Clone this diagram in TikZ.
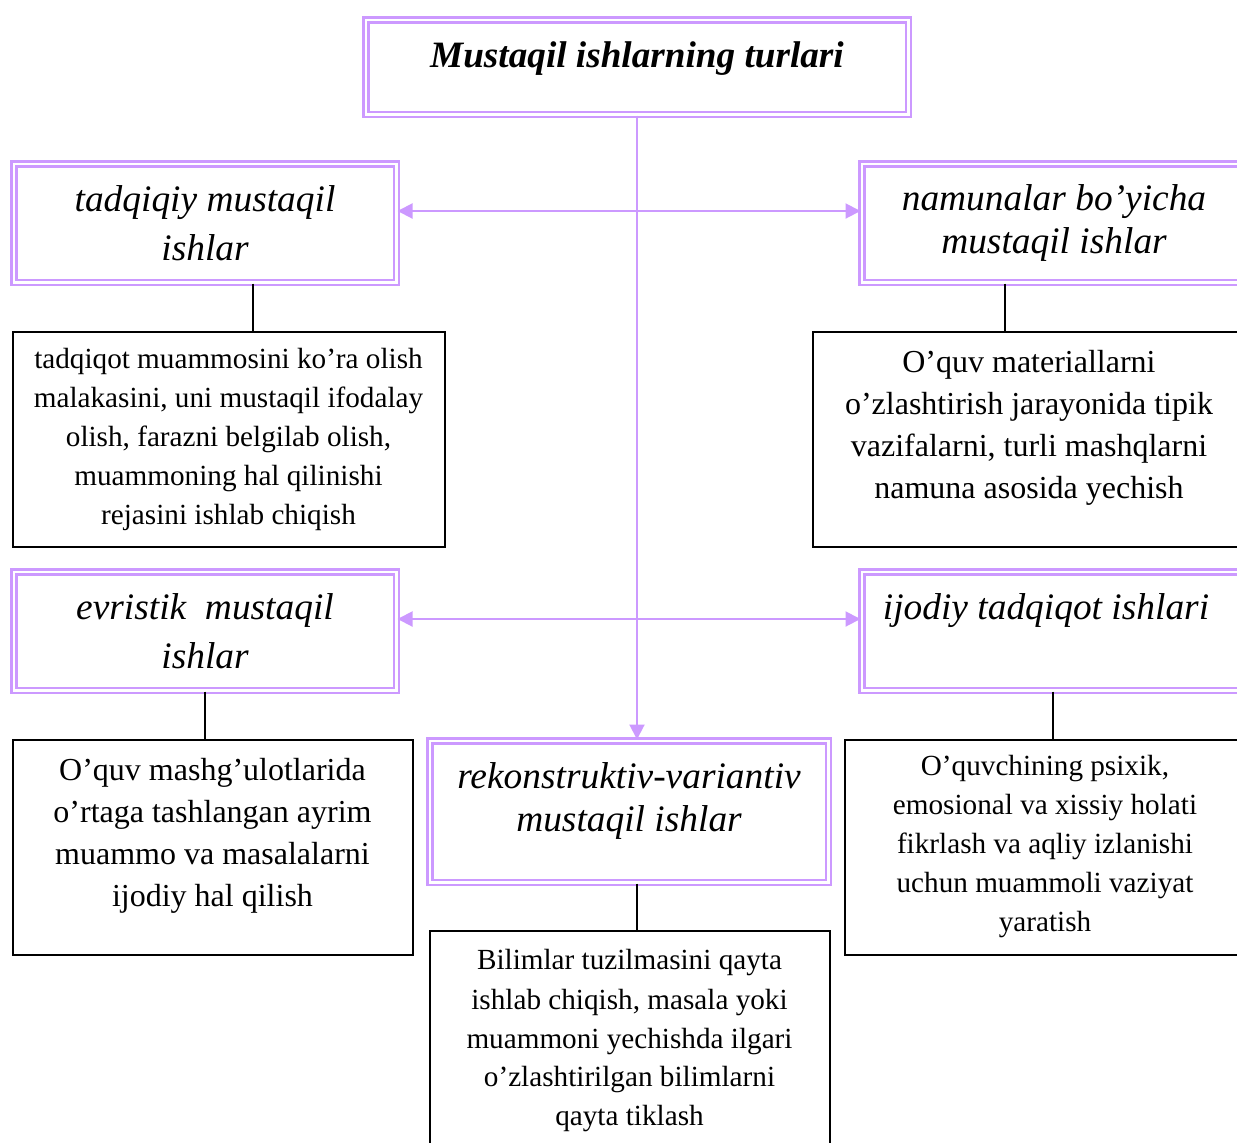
\documentclass[tikz,border=0pt]{standalone}
\usepackage{fontspec}
\setmainfont{Liberation Serif}
\usetikzlibrary{arrows.meta}
\definecolor{lilac}{RGB}{204,153,255}

\tikzset{
	kind/.style={draw=lilac, double=white, line width=1.25pt, double distance=1.25pt,
		align=center, inner sep=0pt, font=\itshape\fontsize{18.7}{24.5}\selectfont},
	note/.style={draw, line width=1pt, align=center, inner sep=0pt,
		font=\fontsize{14.6}{19.5}\selectfont},
	link/.style={lilac, line width=1pt, -{Triangle[length=7.5pt,width=7.5pt]}},
	stem/.style={black, line width=1pt}
}

\begin{document}
\begin{tikzpicture}[x=0.5pt, y=-0.5pt]

	\useasboundingbox (0,0) rectangle (1237,1142);
	\clip (0,0) rectangle (1237,1142);

	% boxes for the kinds
	\node[kind, font=\bfseries\itshape\fontsize{18.6}{22}\selectfont,
		minimum width=271.25pt, minimum height=47.25pt] (head) at (637,67)
		{Mustaqil ishlarning turlari\\[-10pt]\mbox{}};

	\node[kind, minimum width=191.25pt, minimum height=59.25pt] (tadq) at (205,223)
		{tadqiqiy mustaqil\\ishlar};
	\node[kind, font=\itshape\fontsize{18.7}{21.5}\selectfont,
		minimum width=192.25pt, minimum height=59.25pt] (namun) at (1054,223)
		{namunalar bo’yicha\\mustaqil ishlar};
	\node[kind, minimum width=191.25pt, minimum height=59.25pt] (evrist) at (205,631)
		{evristik\ \ mustaqil\\ishlar};
	\node[kind, minimum width=192.25pt, minimum height=59.25pt] (ijod) at (1054,631)
		{\hspace*{-8pt}ijodiy tadqiqot ishlari\\[-0.5pt]\mbox{}};
	\node[kind, font=\itshape\fontsize{18.7}{21.5}\selectfont,
		minimum width=199.25pt, minimum height=70.75pt] (rekon) at (629,811.5)
		{rekonstruktiv-variantiv\\mustaqil ishlar\\[-7.5pt]\mbox{}};

	% boxes for the texts
	\node[note, minimum width=216pt, minimum height=107.5pt] (tadqt) at (228.5,439)
		{tadqiqot muammosini ko’ra olish\\malakasini, uni mustaqil ifodalay\\olish, farazni belgilab olish,\\muammoning hal qilinishi\\rejasini ishlab chiqish};
	\node[note, font=\fontsize{16}{21}\selectfont,
		minimum width=216pt, minimum height=107.5pt] (namunt) at (1029,439)
		{O’quv materiallarni\\o’zlashtirish jarayonida tipik\\vazifalarni, turli mashqlarni\\namuna asosida yechish\\[-6.5pt]\mbox{}};
	\node[note, font=\fontsize{16}{21}\selectfont,
		minimum width=200pt, minimum height=107.5pt] (evristt) at (212.5,847)
		{O’quv mashg’ulotlarida\\o’rtaga tashlangan ayrim\\muammo va masalalarni\\ijodiy hal qilish\\[-6pt]\mbox{}};
	\node[note, minimum width=200pt, minimum height=107.5pt] (ijodt) at (1045,847)
		{O’quvchining psixik,\\emosional va xissiy holati\\fikrlash va aqliy izlanishi\\uchun muammoli vaziyat\\yaratish};
	\node[note, minimum width=200pt, minimum height=110pt] (rekont) at (629.5,1041)
		{Bilimlar tuzilmasini qayta\\ishlab chiqish, masala yoki\\muammoni yechishda ilgari\\o’zlashtirilgan bilimlarni\\qayta tiklash};

	% arrows
	\coordinate (hubA) at (637,211);
	\coordinate (hubB) at (637,619);
	\draw[link] (head.south) -- (head.south |- rekon.north);
	\draw[link] (hubA) -- (hubA -| tadq.east);
	\draw[link] (hubA) -- (hubA -| namun.west);
	\draw[link] (hubB) -- (hubB -| evrist.east);
	\draw[link] (hubB) -- (hubB -| ijod.west);

	% stems
	\draw[stem] ([xshift=24pt]tadq.south) -- ([xshift=24pt]tadq.south |- tadqt.north);
	\draw[stem] ([xshift=-24.5pt]namun.south) -- ([xshift=-24.5pt]namun.south |- namunt.north);
	\draw[stem] (evrist.south) -- (evrist.south |- evristt.north);
	\draw[stem] ([xshift=-0.5pt]ijod.south) -- ([xshift=-0.5pt]ijod.south |- ijodt.north);
	\draw[stem] ([xshift=4pt]rekon.south) -- ([xshift=4pt]rekon.south |- rekont.north);

\end{tikzpicture}
\end{document}
